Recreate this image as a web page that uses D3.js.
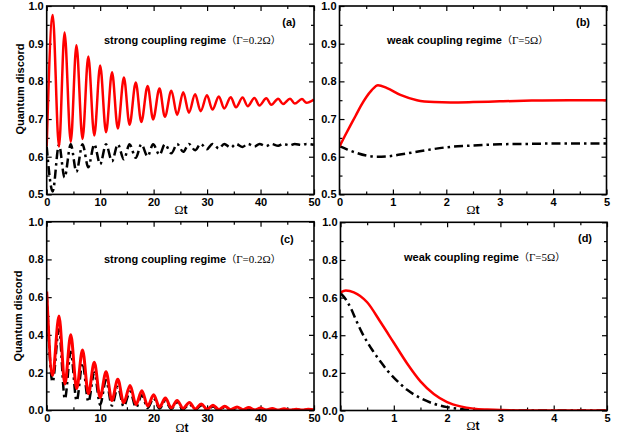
<!DOCTYPE html>
<html><head><meta charset="utf-8">
<script src="https://cdn.jsdelivr.net/npm/d3@7"></script>
<style>body{margin:0;background:#fff} text{font-family:"Liberation Sans",Arial,sans-serif}</style>
</head><body><svg id="c" width="623" height="436"></svg>
<script>
// ---------- tick labels ----------
const xTicksStrong = [0, 10, 20, 30, 40, 50];
const xTicksWeak = [0, 1, 2, 3, 4, 5];
const yTicksTop = [0.5, 0.6, 0.7, 0.8, 0.9, 1.0];
const yTicksBottom = [0.0, 0.2, 0.4, 0.6, 0.8, 1.0];

// ---------- panel (a): strong coupling, extrema ----------
const tA = [0, 1.12, 2.3, 3.34, 4.5, 5.56, 6.7, 7.78, 8.9, 10.0, 11.1, 12.22, 13.3, 14.44, 15.5, 16.66, 17.7, 18.88, 19.9, 21.1, 22.1, 23.32, 24.4, 25.54, 26.6, 27.76, 28.8, 29.98, 31.0, 32.2, 33.2, 34.42, 35.4, 36.64, 37.6, 38.86, 39.8, 41.08, 42.0, 43.3, 44.2, 45.52, 46.4, 47.74, 48.6, 49.96];
const redA = [0.628, 0.976, 0.627, 0.930, 0.640, 0.896, 0.647, 0.866, 0.656, 0.842, 0.665, 0.824, 0.675, 0.810, 0.685, 0.797, 0.692, 0.788, 0.699, 0.781, 0.706, 0.775, 0.711, 0.771, 0.717, 0.766, 0.721, 0.763, 0.725, 0.760, 0.728, 0.758, 0.731, 0.757, 0.734, 0.756, 0.736, 0.755, 0.738, 0.754, 0.740, 0.754, 0.741, 0.753, 0.743, 0.752];
const blackA = [0.627, 0.508, 0.632, 0.545, 0.633, 0.560, 0.633, 0.572, 0.633, 0.580, 0.633, 0.588, 0.633, 0.593, 0.633, 0.597, 0.633, 0.601, 0.633, 0.605, 0.633, 0.609, 0.634, 0.613, 0.634, 0.617, 0.634, 0.620, 0.634, 0.622, 0.634, 0.624, 0.634, 0.626, 0.634, 0.627, 0.634, 0.628, 0.634, 0.629, 0.634, 0.630, 0.634, 0.631, 0.634, 0.632];

// ---------- panel (b): weak coupling ----------
const tBred = [0, 0.1, 0.2, 0.3, 0.4, 0.5, 0.6, 0.72, 0.89, 1.14, 1.45, 1.77, 2.08, 2.5, 3.0, 3.6, 4.3, 5.0];
const redB = [0.627, 0.655, 0.682, 0.708, 0.735, 0.758, 0.776, 0.790, 0.782, 0.764, 0.750, 0.745, 0.744, 0.745, 0.747, 0.749, 0.750, 0.750];
const tBblack = [0, 0.15, 0.3, 0.5, 0.7, 0.9, 1.1, 1.4, 1.7, 2.0, 2.4, 3.0, 3.5, 4.0, 5.0];
const blackB = [0.628, 0.619, 0.611, 0.603, 0.600, 0.601, 0.605, 0.612, 0.619, 0.625, 0.629, 0.633, 0.634, 0.635, 0.635];

// ---------- panel (c): strong coupling ----------
const tC = [0, 1.1, 2.3, 3.4, 4.5, 5.6, 6.7, 7.8, 8.9, 10.0, 11.1, 12.2, 13.3, 14.4, 15.6, 16.7, 17.8, 18.9, 20.0, 21.1, 22.2, 23.3, 24.4, 25.5, 26.7, 27.8, 28.9, 30.0, 31.1, 32.2, 33.3, 34.4, 35.6, 36.7, 37.8, 38.9, 40.0, 41.1, 42.2, 43.3, 44.4, 45.5, 46.7, 47.8, 48.9, 50];
const redC = [0.63, 0.185, 0.50, 0.14, 0.40, 0.115, 0.32, 0.088, 0.255, 0.068, 0.205, 0.052, 0.165, 0.040, 0.132, 0.030, 0.103, 0.023, 0.082, 0.017, 0.065, 0.013, 0.052, 0.010, 0.042, 0.007, 0.034, 0.005, 0.027, 0.004, 0.022, 0.003, 0.018, 0.003, 0.015, 0.002, 0.012, 0.002, 0.010, 0.001, 0.008, 0.001, 0.006, 0.001, 0.005, 0.003];
const blackC = [0.62, 0.15, 0.43, 0.06, 0.31, 0.05, 0.25, 0.045, 0.20, 0.03, 0.16, 0.025, 0.125, 0.02, 0.10, 0.015, 0.08, 0.012, 0.064, 0.009, 0.05, 0.007, 0.04, 0.005, 0.032, 0.004, 0.025, 0.003, 0.02, 0.002, 0.016, 0.002, 0.012, 0.001, 0.01, 0.001, 0.008, 0.001, 0.006, 0.0, 0.005, 0.0, 0.004, 0.0, 0.003, 0.001];

// ---------- panel (d): weak coupling ----------
const tDred = [0, 0.1, 0.25, 0.5, 0.75, 1.0, 1.25, 1.5, 1.75, 2.0, 2.25, 2.5, 2.75, 3.0, 3.5, 4.0, 5.0];
const redD = [0.628, 0.637, 0.628, 0.575, 0.47, 0.36, 0.25, 0.155, 0.088, 0.045, 0.022, 0.010, 0.005, 0.002, 0.0005, 0, 0];
const tDblack = [0, 0.1, 0.2, 0.3, 0.4, 0.5, 0.6, 0.75, 0.9, 1.0, 1.25, 1.5, 1.75, 2.0, 2.25, 2.5, 3.0, 5.0];
const blackD = [0.623, 0.59, 0.54, 0.475, 0.415, 0.365, 0.32, 0.26, 0.205, 0.175, 0.11, 0.066, 0.036, 0.018, 0.008, 0.003, 0.0, 0.0];

const panels = [
  {lab:'(a)', px:[46.7,314], py:[194.4,6], xd:[0,50], yd:[0.5,1.0], xt:xTicksStrong, xm:5, yt:yTicksTop, ym:0.05,
   labPos:[289,26], ann:[104,44,'strong coupling regime','Γ=0.2Ω'], xl:[181,214], yl:[24,89],
   red:[tA,redA], black:[tA,blackA]},
  {lab:'(b)', px:[339.5,606.5], py:[194.4,6], xd:[0,5], yd:[0.5,1.0], xt:xTicksWeak, xm:0.5, yt:yTicksTop, ym:0.05,
   labPos:[583,26], ann:[387,44,'weak coupling regime','Γ=5Ω'], xl:[473,214], yl:null,
   red:[tBred,redB], black:[tBblack,blackB]},
  {lab:'(c)', px:[46.7,314], py:[410.3,221.7], xd:[0,50], yd:[0,1.0], xt:xTicksStrong, xm:5, yt:yTicksBottom, ym:0.1,
   labPos:[287,243], ann:[104,263,'strong coupling regime','Γ=0.2Ω'], xl:[182,432], yl:[22,316],
   red:[tC,redC], black:[tC,blackC]},
  {lab:'(d)', px:[340.5,607], py:[410.5,222.3], xd:[0,5], yd:[0,1.0], xt:xTicksWeak, xm:0.5, yt:yTicksBottom, ym:0.1,
   labPos:[585,242], ann:[404,261,'weak coupling regime','Γ=5Ω'], xl:[473,430], yl:null,
   red:[tDred,redD], black:[tDblack,blackD]}
];

const svg = d3.select('#c');
const defs = svg.append('defs');

panels.forEach((p, i) => {
  const x = d3.scaleLinear().domain(p.xd).range(p.px);
  const y = d3.scaleLinear().domain(p.yd).range(p.py);
  const w = p.px[1]-p.px[0], h = p.py[0]-p.py[1];
  const g = svg.append('g');

  defs.append('clipPath').attr('id','clip'+i).append('rect')
    .attr('x',p.px[0]).attr('y',p.py[1]).attr('width',w).attr('height',h);

  const minorX = d3.range(p.xd[0], p.xd[1]+1e-9, p.xm).filter(v => !p.xt.some(t => Math.abs(t-v)<1e-9));
  const minorY = d3.range(p.yd[0], p.yd[1]+1e-9, p.ym).filter(v => !p.yt.some(t => Math.abs(t-v)<1e-9));

  const fmtY = d3.format('.1f');
  const styleAxis = sel => {
    sel.select('.domain').remove();
    sel.selectAll('line').attr('stroke','#000').attr('stroke-width',1.2);
    sel.selectAll('text').attr('font-size',11).attr('font-weight','bold').attr('fill','#000')
      .attr('font-family','"Liberation Sans",Arial,sans-serif');
  };
  // bottom
  g.append('g').attr('transform',`translate(0,${p.py[0]})`)
    .call(d3.axisBottom(x).tickValues(p.xt).tickFormat(d3.format('d')).tickSizeInner(-5).tickSizeOuter(0).tickPadding(4)).call(styleAxis);
  g.append('g').attr('transform',`translate(0,${p.py[0]})`)
    .call(d3.axisBottom(x).tickValues(minorX).tickFormat('').tickSizeInner(-3).tickSizeOuter(0)).call(styleAxis);
  // top
  g.append('g').attr('transform',`translate(0,${p.py[1]})`)
    .call(d3.axisTop(x).tickValues(p.xt).tickFormat('').tickSizeInner(-5).tickSizeOuter(0)).call(styleAxis);
  g.append('g').attr('transform',`translate(0,${p.py[1]})`)
    .call(d3.axisTop(x).tickValues(minorX).tickFormat('').tickSizeInner(-3).tickSizeOuter(0)).call(styleAxis);
  // left
  g.append('g').attr('transform',`translate(${p.px[0]},0)`)
    .call(d3.axisLeft(y).tickValues(p.yt).tickFormat(fmtY).tickSizeInner(-5).tickSizeOuter(0).tickPadding(3)).call(styleAxis);
  g.append('g').attr('transform',`translate(${p.px[0]},0)`)
    .call(d3.axisLeft(y).tickValues(minorY).tickFormat('').tickSizeInner(-3).tickSizeOuter(0)).call(styleAxis);
  // right
  g.append('g').attr('transform',`translate(${p.px[1]},0)`)
    .call(d3.axisRight(y).tickValues(p.yt).tickFormat('').tickSizeInner(-5).tickSizeOuter(0)).call(styleAxis);
  g.append('g').attr('transform',`translate(${p.px[1]},0)`)
    .call(d3.axisRight(y).tickValues(minorY).tickFormat('').tickSizeInner(-3).tickSizeOuter(0)).call(styleAxis);

  const line = d3.line().x(d => x(d[0])).y(d => y(d[1])).curve(d3.curveMonotoneX);
  const plot = g.append('g').attr('clip-path',`url(#clip${i})`);
  const bl = p.black[0].map((t,k) => [t, p.black[1][k]]);
  const rd = p.red[0].map((t,k) => [t, p.red[1][k]]);
  plot.append('path').attr('d', line(bl)).attr('fill','none').attr('stroke','#000')
    .attr('stroke-width',2.5).attr('stroke-dasharray','9,4,2.5,4');
  plot.append('path').attr('d', line(rd)).attr('fill','none').attr('stroke','#ff0000')
    .attr('stroke-width', i===2 ? 3 : 2.5);

  // frame
  g.append('rect').attr('x',p.px[0]).attr('y',p.py[1]).attr('width',w).attr('height',h)
    .attr('fill','none').attr('stroke','#000').attr('stroke-width',1.6);

  // panel label
  g.append('text').attr('x',p.labPos[0]).attr('y',p.labPos[1]).attr('text-anchor','middle')
    .attr('font-size',11).attr('font-weight','bold').text(p.lab);

  // annotation
  const a = g.append('text').attr('x',p.ann[0]).attr('y',p.ann[1]).attr('font-size',11);
  a.append('tspan').attr('font-weight','bold').text(p.ann[2]);
  a.append('tspan').attr('font-family','"Noto Sans CJK SC"').attr('font-size',10).text('（');
  a.append('tspan').attr('font-family','"Liberation Serif","Times New Roman",serif').attr('font-size',11).text(p.ann[3]);
  a.append('tspan').attr('font-family','"Noto Sans CJK SC"').attr('font-size',10).text('）');

  // x label
  const xl = g.append('text').attr('x',p.xl[0]).attr('y',p.xl[1]).attr('text-anchor','middle').attr('font-size',12);
  xl.append('tspan').attr('font-family','"Liberation Serif","Times New Roman",serif').text('Ω');
  xl.append('tspan').attr('font-weight','bold').text('t');

  // y label
  if (p.yl) {
    g.append('text').attr('transform',`translate(${p.yl[0]},${p.yl[1]}) rotate(-90)`)
      .attr('text-anchor','middle').attr('font-size',11).attr('font-weight','bold').text('Quantum discord');
  }
});
</script>
</body></html>
